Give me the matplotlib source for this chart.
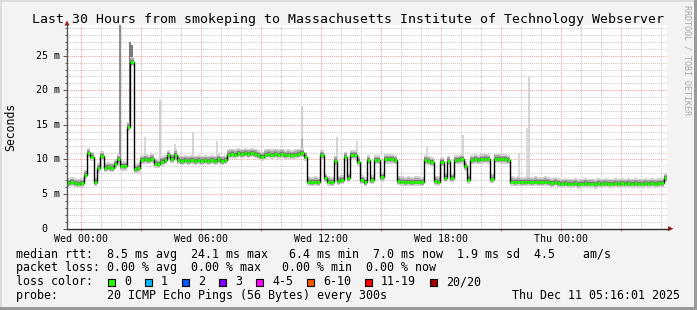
import numpy as np
import matplotlib
matplotlib.use("Agg")
import matplotlib.pyplot as plt
from matplotlib.patches import Rectangle, Polygon
from matplotlib.lines import Line2D
from matplotlib.transforms import blended_transform_factory

W, H = 697, 310
MONO = "DejaVu Sans Mono"
plt.rcParams["font.family"] = MONO

title = "Last 30 Hours from smokeping to Massachusetts Institute of Technology Webserver"

# median rtt in ms, one value every 10 minutes, first one at Tue 23:18
t_start = -0.7   # hours relative to Wed 00:00
step = 1 / 6.0
median_ms = [
    6.6, 6.7, 6.6, 6.5, 6.6, 7.8, 10.9, 10.4, 6.7, 8.7,
    10.5, 8.8, 8.9, 8.8, 9.3, 10.0, 9.0, 9.0, 14.7, 24.1,
    8.6, 8.7, 9.9, 10.0, 9.9, 10.1, 9.4, 9.3, 9.7, 9.9,
    10.6, 10.1, 10.7, 9.9, 9.8, 9.9, 9.8, 9.9, 9.8, 9.9,
    9.8, 9.9, 9.8, 9.9, 9.8, 10.0, 9.8, 9.9, 10.7, 10.8,
    10.7, 10.9, 10.8, 10.9, 10.8, 10.9, 10.8, 10.6, 10.4, 10.7,
    10.8, 10.7, 10.8, 10.7, 10.8, 10.6, 10.7, 10.6, 10.7, 10.8,
    10.9, 10.4, 6.8, 6.7, 6.8, 6.7, 10.6, 7.3, 6.8, 6.7,
    9.8, 6.9, 7.0, 10.4, 7.3, 10.6, 10.6, 9.7, 7.0, 6.7,
    9.9, 7.0, 9.9, 9.9, 7.4, 10.0, 10.0, 10.0, 9.9, 6.9,
    6.8, 6.7, 6.8, 6.7, 6.8, 6.8, 6.7, 9.9, 9.8, 9.6,
    6.9, 6.8, 9.6, 7.3, 9.8, 7.3, 9.9, 9.9, 10.0, 9.0,
    7.1, 9.9, 10.0, 9.9, 10.0, 10.1, 10.0, 7.2, 10.1, 10.1,
    10.0, 10.0, 9.9, 6.8, 6.7, 6.8, 6.7, 6.7, 6.8, 6.7,
    6.8, 6.7, 6.7, 6.8, 6.7, 6.6, 6.7, 6.6, 6.5, 6.6,
    6.5, 6.5, 6.6, 6.4, 6.5, 6.6, 6.5, 6.5, 6.4, 6.6,
    6.5, 6.6, 6.5, 6.5, 6.6, 6.5, 6.6, 6.5, 6.6, 6.5,
    6.6, 6.5, 6.5, 6.6, 6.5, 6.6, 6.5, 6.6, 6.6, 7.3,
]

# single pings far above the median (the tall smoke)
spike_hours = [1.93, 2.38, 2.45, 2.55, 2.5, 3.2, 3.95, 4.7, 5.6, 6.8,
               11.05, 11.05, 12.8, 13.8, 17.3, 19.1, 21.9, 22.3, 22.4]
spike_tops = [29.4, 14.3, 27.0, 26.5, 24.4, 13.2, 18.6, 12.2, 14.0, 12.6,
              17.7, 13.0, 13.2, 12.6, 11.9, 13.5, 10.9, 14.5, 21.9]
spike_greys = ["#8e8e8e", "#c8c8c8", "#7a7a7a", "#7a7a7a", "#2a2a2a", "#d8d8d8",
               "#cfcfcf", "#d8d8d8", "#d4d4d4", "#d8d8d8", "#d0d0d0", "#b0b0b0",
               "#d4d4d4", "#d8d8d8", "#d8d8d8", "#d4d4d4", "#d8d8d8", "#dadada",
               "#d4d4d4"]

x_tick_hours = [0, 6, 12, 18, 24]
x_tick_labels = ["Wed 00:00", "Wed 06:00", "Wed 12:00", "Wed 18:00", "Thu 00:00"]
y_ticks = [0, 5, 10, 15, 20, 25]

loss_labels = ["0", "1", "2", "3", "4-5", "6-10", "11-19", "20/20"]
loss_colors = ["#26ff00", "#00b8ff", "#0059ff", "#7e00ff", "#ff00ff",
               "#ff5500", "#ff0000", "#a10000"]

rtt_line = "median rtt:  8.5 ms avg  24.1 ms max   6.4 ms min  7.0 ms now  1.9 ms sd  4.5    am/s"
loss_line = "packet loss: 0.00 % avg  0.00 % max   0.00 % min  0.00 % now"
probe_line = "probe:       20 ICMP Echo Pings (56 Bytes) every 300s"
stamp = "Thu Dec 11 05:16:01 2025"


def fx(px):
    return px / W


def fy(py):
    return 1 - py / H


fig = plt.figure(figsize=(W / 100, H / 100), dpi=100, facecolor="#f3f3f3")

# frame shading
fig.patches.append(Rectangle((0, fy(2)), 1, fy(0) - fy(2), transform=fig.transFigure, color="#dcdcdc", lw=0))
fig.patches.append(Rectangle((0, 0), fx(2), 1, transform=fig.transFigure, color="#dcdcdc", lw=0))
fig.patches.append(Rectangle((0, 0), 1, 1 - fy(3), transform=fig.transFigure, color="#9a9a9a", lw=0))
fig.patches.append(Rectangle((fx(694), 0), fx(3), 1, transform=fig.transFigure, color="#9a9a9a", lw=0))

ax = fig.add_axes([fx(67), fy(228.7), fx(667) - fx(67), fy(25) - fy(228.7)])
ax.set_facecolor("white")
ax.set_xlim(t_start, t_start + 30)
ax.set_ylim(0, 29.43)
for s in ax.spines.values():
    s.set_visible(False)

# grid
dots = (0, (1, 1))
for h in range(0, 30):
    c = "#f2a0a0" if h % 3 == 0 else "#c8c8c8"
    ax.axvline(h, color=c, lw=0.75, ls=dots, zorder=1)
for v in range(1, 30):
    c = "#f2a0a0" if v % 5 == 0 else "#c8c8c8"
    ax.axhline(v, color=c, lw=0.75, ls=dots, zorder=1)

med = np.array(median_ms)
t = t_start + np.arange(len(med)) * step
t_edge = np.append(t, t[-1] + step)
m_edge = np.append(med, med[-1])

# spikes start at the median of their slot
idx = ((np.array(spike_hours) - t_start) / step).astype(int)
base = med[idx]
ax.bar(spike_hours, np.array(spike_tops) - base, bottom=base, width=0.1,
       color=spike_greys, lw=0, zorder=1.8)

# smoke around the median
for lo, hi, col in [(0.6, 0.75, "#d2d2d2"), (0.4, 0.5, "#a8a8a8"), (0.22, 0.3, "#7c7c7c")]:
    ax.fill_between(t_edge, m_edge - lo, m_edge + hi, step="post", color=col, lw=0, zorder=2)

ax.step(t_edge, m_edge, where="post", color="black", lw=1.0, zorder=3)
ax.hlines(med, t, t + step, colors=loss_colors[0], lw=2.0, zorder=4)

# ticks
ax.set_xticks(np.arange(0, 30, 3))
ax.set_xticklabels([x_tick_labels[x_tick_hours.index(h)] if h in x_tick_hours else ""
                    for h in range(0, 30, 3)], fontsize=7.2)
ax.tick_params(axis="x", which="major", length=1.5, width=0.72, color="#e06060", pad=2.4)
ax.set_yticks(y_ticks)
ax.set_yticks(range(0, 30), minor=True)
ax.set_yticklabels([])
ax.tick_params(axis="y", which="major", length=2.9, width=0.72, color="#555555")
ax.tick_params(axis="y", which="minor", length=1.5, width=0.72, color="#555555")

ytrans = blended_transform_factory(fig.transFigure, ax.transData)
for v in y_ticks:
    lab = f"{v:2d} m" if v else " 0  "
    ax.text(fx(36), v, lab, transform=ytrans, ha="left", va="center", fontsize=7.2)

# axes lines and arrows
axis_col = "#2b2b2b"
arrow_col = "#9c1a1a"
fig.lines.append(Line2D([fx(67), fx(668)], [fy(228.7), fy(228.7)], transform=fig.transFigure, color=axis_col, lw=1))
fig.lines.append(Line2D([fx(67), fx(67)], [fy(229), fy(25)], transform=fig.transFigure, color="#555555", lw=1))
fig.patches.append(Polygon([(fx(64.5), fy(25.5)), (fx(69.5), fy(25.5)), (fx(67), fy(20.5))],
                           closed=True, transform=fig.transFigure, color=arrow_col, lw=0))
fig.patches.append(Polygon([(fx(668), fy(226.2)), (fx(668), fy(231.2)), (fx(673.5), fy(228.7))],
                           closed=True, transform=fig.transFigure, color=arrow_col, lw=0))

# texts
fig.text(0.5, fy(23), title, ha="center", va="baseline", fontsize=9.55)
fig.text(fx(11), fy(127), "Seconds", rotation=90, ha="center", va="center", fontsize=8.3)
fig.text(fx(687), fy(60), "RRDTOOL / TOBI OETIKER", rotation=270, ha="center", va="center",
         fontsize=6, color="#a8a8a8")

leg_size = 8.37
fig.text(fx(16), fy(257.7), rtt_line, ha="left", va="baseline", fontsize=leg_size)
fig.text(fx(16), fy(271.5), loss_line, ha="left", va="baseline", fontsize=leg_size)
fig.text(fx(16), fy(285.4), "loss color:", ha="left", va="baseline", fontsize=leg_size)
fig.text(fx(16), fy(299.2), probe_line, ha="left", va="baseline", fontsize=leg_size)
fig.text(fx(680.5), fy(299.2), stamp, ha="right", va="baseline", fontsize=leg_size)

x = 108.3
for lab, col in zip(loss_labels, loss_colors):
    fig.patches.append(Rectangle((fx(x), fy(286.3)), fx(7), fy(279) - fy(286.3),
                                 transform=fig.transFigure, facecolor=col, edgecolor="black", lw=0.8))
    fig.text(fx(x + 15.7), fy(285.4), lab, ha="left", va="baseline", fontsize=leg_size)
    x += 30 + 7 * len(lab)

fig.savefig("out.png", dpi=100, facecolor=fig.get_facecolor())
